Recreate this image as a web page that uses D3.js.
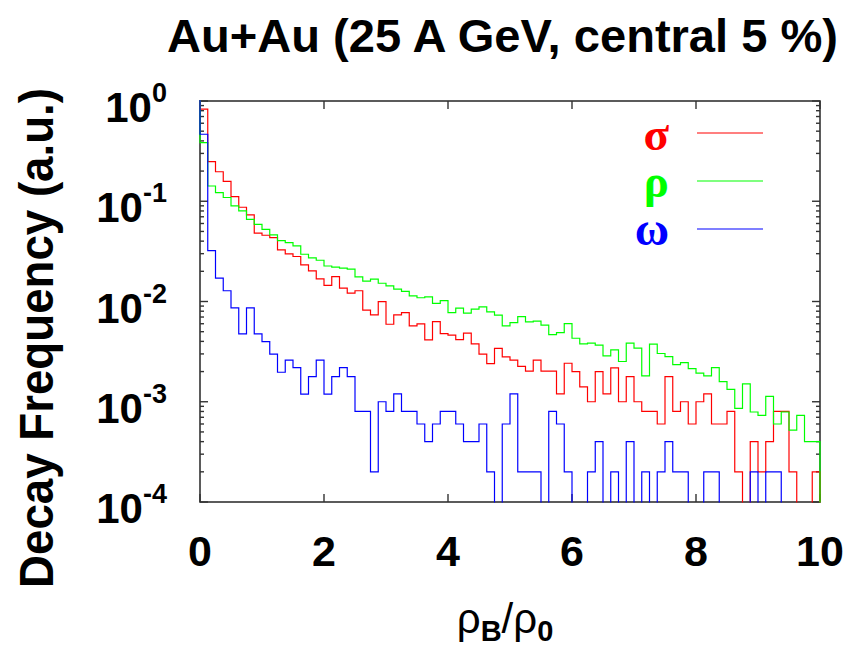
<!DOCTYPE html>
<html>
<head>
<meta charset="utf-8">
<script src="https://cdn.jsdelivr.net/npm/d3@7"></script>
<style>
  body { margin: 0; background: #fff; }
  svg { display: block; }
</style>
</head>
<body>
<svg id="chart" width="857" height="650"></svg>
<script>
// Histogram of decay points vs. local baryon density, bins of 0.125 rho_0
const binWidth = 0.125;

const sigmaValues = [
  0.83, 0.248, 0.197, 0.158, 0.111, 0.0871, 0.073, 0.048, 0.0458, 0.0434,
  0.0327, 0.0298, 0.0281, 0.0232, 0.0202, 0.0168, 0.0145, 0.0177, 0.0136, 0.0121,
  0.0128, 0.00819, 0.00735, 0.00998, 0.00593, 0.00735, 0.00776, 0.00571, 0.00598, 0.00414,
  0.00631, 0.00479, 0.00461, 0.00417, 0.00483, 0.00378, 0.00298, 0.0024, 0.0034, 0.0028,
  0.0026, 0.00225, 0.00202, 0.0026, 0.00202, 0.00202, 0.0012, 0.00242, 0.002, 0.00141,
  0.001, 0.002, 0.0012, 0.00218, 0.001, 0.00178, 0.001, 0.0008, 0.0008, 0.0006,
  0.00178, 0.0008, 0.001, 0.0006, 0.001, 0.0012, 0.0006, 0.0006, 0.0008, 0.0002,
  0, 0.0004, 0.0002, 0.0004, 0.0008, 0.0008, 0.0002, 0, 0, 0.0002
];

const rhoValues = [
  0.384, 0.142, 0.122, 0.109, 0.0898, 0.080, 0.066, 0.0589, 0.0525, 0.0461,
  0.0405, 0.0387, 0.0358, 0.0296, 0.0272, 0.0258, 0.0226, 0.022, 0.0215, 0.021,
  0.0176, 0.016, 0.0167, 0.0152, 0.0143, 0.0133, 0.0126, 0.0114, 0.0109, 0.0111,
  0.0096, 0.0102, 0.00776, 0.00857, 0.00764, 0.00838, 0.00883, 0.00787, 0.0073, 0.00571,
  0.00616, 0.00708, 0.00626, 0.00636, 0.00581, 0.00468, 0.0049, 0.00602, 0.0043, 0.00378,
  0.00384, 0.00367, 0.00287, 0.00329, 0.00252, 0.00384, 0.00342, 0.00181, 0.00375, 0.00303,
  0.00282, 0.00235, 0.00246, 0.00214, 0.00193, 0.00181, 0.00219, 0.00159, 0.00133, 0.00086,
  0.00151, 0.00079, 0.00073, 0.00113, 0.0006, 0.00079, 0.00052, 0.00073, 0.0004, 0.0004
];

const omegaValues = [
  0.466, 0.0322, 0.0171, 0.0128, 0.00864, 0.00475, 0.00864, 0.00475, 0.00398, 0.00298,
  0.00197, 0.0026, 0.00219, 0.00119, 0.00178, 0.0026, 0.00119, 0.00178, 0.00219, 0.00178,
  0.0008, 0.0008, 0.0002, 0.001, 0.0008, 0.0012, 0.0008, 0.0008, 0.0006, 0.0004,
  0.0006, 0.0008, 0.0008, 0.0006, 0.0004, 0.0004, 0.0006, 0.0002, 0, 0.0006,
  0.0012, 0.0002, 0.0002, 0.0002, 0, 0.0008, 0.0006, 0.0002, 0, 0,
  0.0002, 0.0004, 0, 0.0002, 0, 0.0004, 0, 0.0002, 0, 0.0002,
  0.0004, 0.0002, 0.0002, 0, 0, 0.0002, 0.0002, 0, 0, 0,
  0, 0.0002, 0, 0.0002, 0.0002, 0, 0, 0, 0, 0
];

const seriesNames = ["σ", "ρ", "ω"];
const seriesColors = ["#ff0000", "#00ff00", "#0000ff"];
const seriesValues = [sigmaValues, rhoValues, omegaValues];

const xTickValues = [0, 2, 4, 6, 8, 10];
const yTickExponents = [0, -1, -2, -3, -4];

const titleText = "Au+Au (25 A GeV, central 5 %)";
const yLabelText = "Decay Frequency (a.u.)";

const svg = d3.select("#chart");
const plot = { left: 200, right: 820, top: 101, bottom: 502 };

const x = d3.scaleLinear().domain([0, 10]).range([plot.left, plot.right]);
const y = d3.scaleLog().domain([1e-4, 1]).range([plot.bottom, plot.top]);

const sans = "'Liberation Sans', Arial, Helvetica, sans-serif";
const serif = "'Liberation Serif', 'Times New Roman', serif";
const axisColor = "#333";

// frame
svg.append("rect")
  .attr("x", plot.left).attr("y", plot.top)
  .attr("width", plot.right - plot.left).attr("height", plot.bottom - plot.top)
  .attr("fill", "none").attr("stroke", axisColor).attr("stroke-width", 1.6);

// y ticks: decades (major) and 2..9 (minor), on both sides, pointing inward
const yMajor = yTickExponents.map(e => Math.pow(10, e));
const yMinor = [];
yTickExponents.slice(1).forEach(e => {
  for (let m = 2; m <= 9; m++) yMinor.push(m * Math.pow(10, e));
});
const ticks = svg.append("g").attr("stroke", axisColor).attr("stroke-width", 1.4);
yMajor.forEach(v => {
  ticks.append("line").attr("x1", plot.left).attr("x2", plot.left + 8).attr("y1", y(v)).attr("y2", y(v));
  ticks.append("line").attr("x1", plot.right).attr("x2", plot.right - 8).attr("y1", y(v)).attr("y2", y(v));
});
yMinor.forEach(v => {
  ticks.append("line").attr("x1", plot.left).attr("x2", plot.left + 4).attr("y1", y(v)).attr("y2", y(v));
  ticks.append("line").attr("x1", plot.right).attr("x2", plot.right - 4).attr("y1", y(v)).attr("y2", y(v));
});
xTickValues.forEach(v => {
  ticks.append("line").attr("x1", x(v)).attr("x2", x(v)).attr("y1", plot.bottom).attr("y2", plot.bottom - 8);
  ticks.append("line").attr("x1", x(v)).attr("x2", x(v)).attr("y1", plot.top).attr("y2", plot.top + 8);
});

// histogram step curves
svg.append("clipPath").attr("id", "plotClip")
  .append("rect")
  .attr("x", plot.left - 1).attr("y", plot.top - 1)
  .attr("width", plot.right - plot.left + 2).attr("height", plot.bottom - plot.top + 1.5);

const floorValue = y.domain()[0] / 10;   // empty bins fall below the axis
const ceilValue = y.domain()[1] * 10;    // underflow bin lies above the frame
const yv = v => y(v > 0 ? v : floorValue);

const line = d3.line();
seriesValues.forEach((vals, k) => {
  const pts = [[x(0), y(ceilValue)]];
  vals.forEach((v, i) => {
    pts.push([x(i * binWidth), yv(v)]);
    pts.push([x((i + 1) * binWidth), yv(v)]);
  });
  pts.push([x(vals.length * binWidth), y(floorValue)]);
  svg.append("path")
    .attr("clip-path", "url(#plotClip)")
    .attr("d", line(pts))
    .attr("fill", "none")
    .attr("stroke", seriesColors[k])
    .attr("stroke-width", 1.2)
    .attr("stroke-linejoin", "miter");
});

// y tick labels 10^n
yTickExponents.forEach(e => {
  const t = svg.append("text")
    .attr("x", 167).attr("y", y(Math.pow(10, e)) + 21)
    .attr("text-anchor", "end")
    .attr("font-family", sans).attr("font-weight", "bold")
    .attr("font-size", 42).attr("fill", "#000");
  t.append("tspan").text("10");
  t.append("tspan").attr("dy", -20).attr("font-size", 27).text(String(e));
});

// x tick labels
xTickValues.forEach(v => {
  svg.append("text")
    .attr("x", x(v)).attr("y", 566)
    .attr("text-anchor", "middle")
    .attr("font-family", sans).attr("font-weight", "bold")
    .attr("font-size", 43).attr("fill", "#000")
    .text(v);
});

// title
svg.append("text")
  .attr("x", 167).attr("y", 52)
  .attr("font-family", sans).attr("font-weight", "bold")
  .attr("font-size", 47).attr("fill", "#000")
  .attr("textLength", 671).attr("lengthAdjust", "spacingAndGlyphs")
  .text(titleText);

// y axis title
svg.append("text")
  .attr("transform", "translate(53,338) rotate(-90)")
  .attr("text-anchor", "middle")
  .attr("font-family", sans).attr("font-weight", "bold")
  .attr("font-size", 48).attr("fill", "#000")
  .attr("textLength", 500).attr("lengthAdjust", "spacingAndGlyphs")
  .text(yLabelText);

// x axis title: rho_B / rho_0
const xl = svg.append("text")
  .attr("x", 505).attr("y", 633)
  .attr("text-anchor", "middle")
  .attr("font-family", sans).attr("font-size", 42).attr("fill", "#000");
xl.append("tspan").text("ρ");
xl.append("tspan").attr("dy", 8).attr("font-size", 29).attr("font-weight", "bold").text("B");
xl.append("tspan").attr("dy", -8).text("/ρ");
xl.append("tspan").attr("dy", 8).attr("font-size", 29).attr("font-weight", "bold").text("0");

// legend
const legendBase = [150, 197, 245];
const legendLineY = [133, 181, 229];
seriesNames.forEach((name, k) => {
  svg.append("text")
    .attr("x", 669).attr("y", legendBase[k])
    .attr("text-anchor", "end")
    .attr("font-family", serif).attr("font-size", 47).attr("font-weight", "bold")
    .attr("fill", seriesColors[k])
    .text(name);
  svg.append("line")
    .attr("x1", 697).attr("x2", 763)
    .attr("y1", legendLineY[k]).attr("y2", legendLineY[k])
    .attr("stroke", seriesColors[k]).attr("stroke-width", 1.2);
});
</script>
</body>
</html>
